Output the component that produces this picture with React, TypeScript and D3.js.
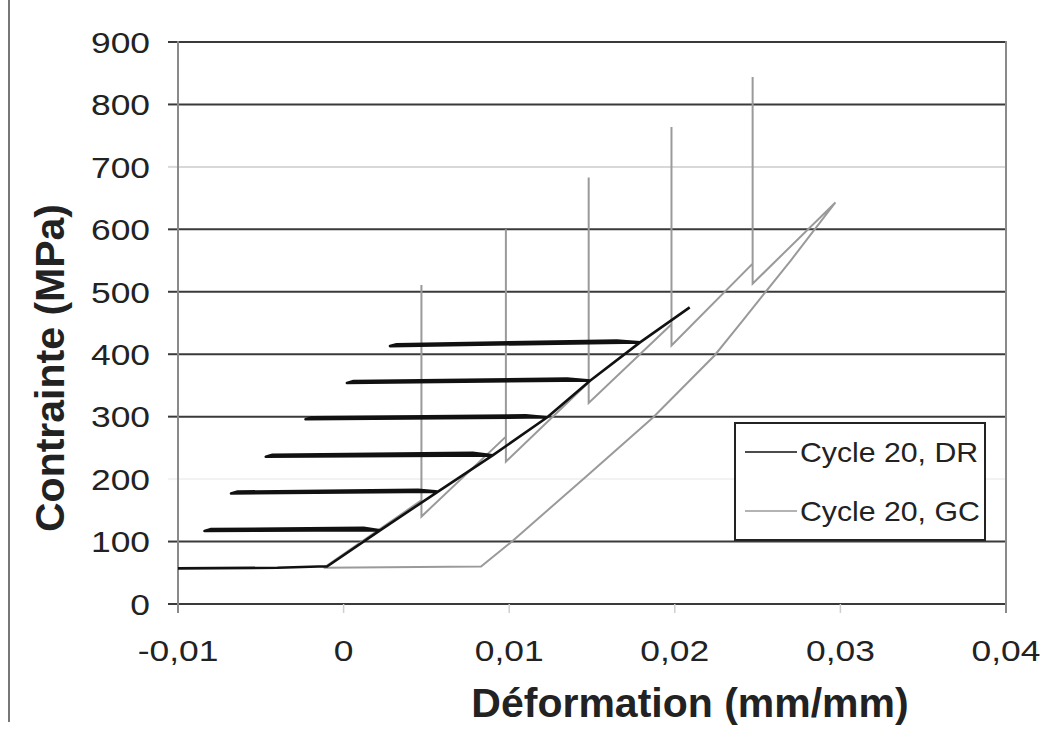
import React from "react";
import * as d3 from "d3";

// ---- Data ----
const yTicks = [0, 100, 200, 300, 400, 500, 600, 700, 800, 900];
const xTicks = [-0.01, 0, 0.01, 0.02, 0.03, 0.04];
const xTickLabels = ["-0,01", "0", "0,01", "0,02", "0,03", "0,04"];

// Cycle 20, DR (black): plateaus drawn back and forth, joined by the loading line
const drStrain = [
  -0.0100, -0.0040, -0.0015, -0.0010,
  0.0022, -0.0084, -0.0080, 0.0012, 0.0022,
  0.0057, -0.0068, -0.0064, 0.0045, 0.0057,
  0.0090, -0.0047, -0.0043, 0.0078, 0.0090,
  0.0123, -0.0023, -0.0019, 0.0110, 0.0123,
  0.0149, 0.0002, 0.0006, 0.0135, 0.0149,
  0.0179, 0.0028, 0.0032, 0.0165, 0.0179,
  0.0209,
];
const drStress = [
  57, 58, 60, 60,
  118, 117, 120, 122, 118,
  180, 177, 180, 183, 180,
  238, 236, 239, 242, 238,
  299, 296, 299, 302, 299,
  358, 354, 357, 361, 358,
  419, 413, 416, 422, 419,
  475,
];

// Cycle 20, GC (grey): saw-tooth loading, then unloading back to the base
const gcStrain = [
  -0.0012, 0.0047, 0.0047, 0.0047,
  0.0098, 0.0098, 0.0098,
  0.0148, 0.0148, 0.0148,
  0.0198, 0.0198, 0.0198,
  0.0247, 0.0247, 0.0247,
  0.0297, 0.0270, 0.0241, 0.0224, 0.0187, 0.0146, 0.0102, 0.0083,
  -0.0012,
];
const gcStress = [
  58, 166, 511, 140,
  268, 600, 228,
  355, 683, 322,
  448, 764, 414,
  545, 844, 513,
  643, 550, 454, 398, 299, 203, 101, 60,
  58,
];

const seriesNames = ["Cycle 20, DR", "Cycle 20, GC"];
const seriesColors = ["#111111", "#9a9a9a"];

export default function App() {
  const W = 1044, H = 736;
  const left = 178, right = 1006, top = 42, bottom = 604;
  const x = d3.scaleLinear().domain([-0.01, 0.04]).range([left, right]);
  const y = d3.scaleLinear().domain([0, 900]).range([bottom, top]);

  const line = d3.line<[number, number]>().x(d => x(d[0])).y(d => y(d[1]));
  const drPts: [number, number][] = drStrain.map((s, i) => [s, drStress[i]]);
  const gcPts: [number, number][] = gcStrain.map((s, i) => [s, gcStress[i]]);

  const gridColor = (v: number) =>
    v === 700 ? "#d8d8d8" : v === 200 ? "#f2f2f2" : "#3a3a3a";
  const sx = 1.18; // horizontal stretch of the scanned tick labels

  return (
    <svg width={W} height={H} style={{ position: "absolute", left: 0, top: 0, background: "#fff" }}
      fontFamily="'Liberation Sans', Arial, sans-serif">
      <rect x={0} y={0} width={W} height={H} fill="#fff" />
      {/* page edge line */}
      <line x1={9} x2={9} y1={0} y2={722} stroke="#777" strokeWidth={2} />

      <defs>
        <clipPath id="plot">
          <rect x={left} y={top - 5} width={right - left} height={bottom - top + 5} />
        </clipPath>
      </defs>

      {/* horizontal gridlines */}
      {yTicks.map(v => (
        <line key={"g" + v} x1={left} x2={right} y1={y(v)} y2={y(v)}
          stroke={gridColor(v)} strokeWidth={2} />
      ))}
      {/* y ticks */}
      {yTicks.map(v => (
        <line key={"t" + v} x1={left - 10} x2={left} y1={y(v)} y2={y(v)}
          stroke={gridColor(v)} strokeWidth={2} />
      ))}
      {/* x ticks */}
      {xTicks.map((v, i) => (
        <line key={"xt" + i} x1={x(v)} x2={x(v)} y1={bottom} y2={bottom + 9}
          stroke={i === 0 || i === xTicks.length - 1 ? "#666" : "#cfcfcf"} strokeWidth={1.5} />
      ))}
      {/* axes */}
      <line x1={left} x2={left} y1={top - 1} y2={bottom + 9} stroke="#8a8a8a" strokeWidth={2} />
      <line x1={right} x2={right} y1={top - 1} y2={bottom + 9} stroke="#8a8a8a" strokeWidth={2} />

      {/* data */}
      <g clipPath="url(#plot)">
        <path d={line(gcPts) || ""} fill="none" stroke={seriesColors[1]} strokeWidth={2} strokeLinejoin="miter" />
        <path d={line(drPts) || ""} fill="none" stroke={seriesColors[0]} strokeWidth={2.6} strokeLinejoin="round" />
      </g>

      {/* tick labels */}
      {yTicks.map(v => (
        <text key={"yl" + v} transform={`translate(150,${y(v)}) scale(${sx},1)`} dy="0.36em"
          textAnchor="end" fontSize={30} fill="#222">{v}</text>
      ))}
      {xTicks.map((v, i) => (
        <text key={"xl" + i} transform={`translate(${x(v)},661) scale(${sx},1)`}
          textAnchor="middle" fontSize={30} fill="#222">{xTickLabels[i]}</text>
      ))}

      {/* axis titles */}
      <text transform={`translate(64,368) rotate(-90)`} textAnchor="middle" fontSize={41} fontWeight="bold" fill="#222">
        Contrainte (MPa)
      </text>
      <text x={690} y={717} textAnchor="middle" fontSize={41} fontWeight="bold" fill="#222">
        Déformation (mm/mm)
      </text>

      {/* legend */}
      <rect x={735} y={423} width={250} height={117} fill="#fff" stroke="#222" strokeWidth={2} />
      {seriesNames.map((n, i) => (
        <g key={n}>
          <line x1={745} x2={797} y1={452 + i * 59} y2={452 + i * 59} stroke={seriesColors[i]} strokeWidth={1.5} />
          <text transform={`translate(800,${452 + i * 59}) scale(1.08,1)`} dy="0.36em" fontSize={28} fill="#222">{n}</text>
        </g>
      ))}
    </svg>
  );
}
